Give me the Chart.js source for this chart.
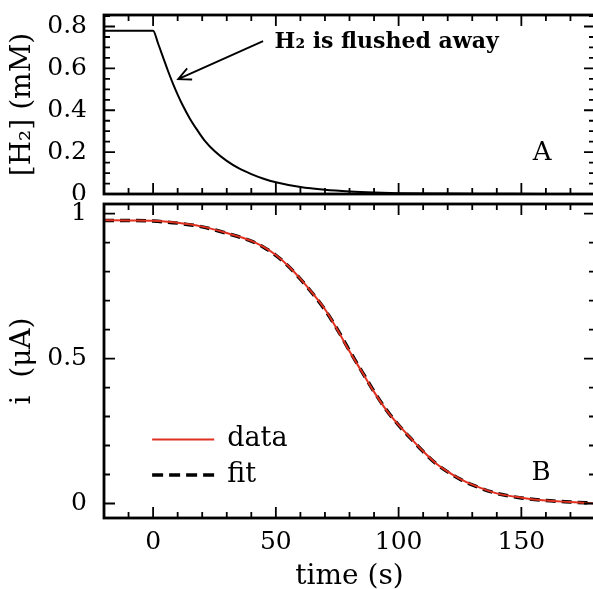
<!DOCTYPE html>
<html>
<head>
<meta charset="utf-8">
<script src="https://cdn.jsdelivr.net/npm/chart.js@4.4.0/dist/chart.umd.min.js"></script>
<style>
  html, body { margin: 0; padding: 0; background: #fff; overflow: hidden; width: 593px; height: 589px; }
  canvas { position: absolute; left: 0; }
  #top { top: 0; }
  #bottom { top: 200px; }
</style>
</head>
<body>
<canvas id="top" width="600" height="200"></canvas>
<canvas id="bottom" width="600" height="389"></canvas>
<script>
// panel A: H2 concentration (mM) vs time (s)
const h2Time = [-20, 0, 2, 4, 6, 8, 10, 12, 15, 18, 21, 25, 30, 35, 40, 45, 50, 60, 70, 80, 90, 100, 120, 140, 160, 180];
const h2Conc = [0.78, 0.78, 0.72, 0.655, 0.59, 0.53, 0.475, 0.425, 0.36, 0.305, 0.255, 0.205, 0.158, 0.122, 0.095, 0.073, 0.056, 0.033, 0.02, 0.012, 0.007, 0.004, 0.002, 0.001, 0, 0];

// panel B: current (uA) vs time (s)
const iTime = [-20, -10, 0, 10, 20, 30, 40, 45, 50, 55, 60, 65, 70, 75, 80, 85, 90, 95, 100, 105, 110, 115, 120, 125, 130, 140, 150, 160, 170, 180];
const iData = [0.977, 0.976, 0.975, 0.968, 0.955, 0.933, 0.906, 0.885, 0.857, 0.82, 0.775, 0.725, 0.67, 0.60, 0.525, 0.455, 0.385, 0.322, 0.271, 0.225, 0.18, 0.14, 0.11, 0.085, 0.065, 0.035, 0.02, 0.01, 0.005, 0.0];
const iFit  = [0.976, 0.976, 0.974, 0.967, 0.954, 0.932, 0.905, 0.884, 0.856, 0.819, 0.774, 0.724, 0.668, 0.601, 0.527, 0.456, 0.386, 0.323, 0.27, 0.224, 0.179, 0.139, 0.109, 0.084, 0.064, 0.035, 0.019, 0.01, 0.005, 0.001];

const xTicks = [0, 50, 100, 150];
const h2Ticks = [0, 0.2, 0.4, 0.6, 0.8];
const iTicks = [0, 0.5, 1];

const pts = (xs, ys) => xs.map((x, k) => ({x: x, y: ys[k]}));

Chart.defaults.font.family = "'DejaVu Serif', serif";
Chart.defaults.color = '#000';

// frame round the plot area with inward ticks on all four sides
const framePlugin = {
  id: 'frame',
  afterDraw(chart, args, opts) {
    const {ctx, chartArea: a, scales: {x, y}} = chart;
    ctx.save();
    ctx.strokeStyle = '#000';
    ctx.lineWidth = 1.8;
    ctx.beginPath();
    const start = (min, step) => Math.ceil(min / step - 1e-6) * step;
    for (let v = start(x.min, opts.xMinor); v <= x.max + 1e-6; v += opts.xMinor) {
      const px = x.getPixelForValue(v);
      const big = Math.abs(v / opts.xMajor - Math.round(v / opts.xMajor)) < 1e-6;
      const len = big ? 11 : 6;
      ctx.moveTo(px, a.bottom); ctx.lineTo(px, a.bottom - len);
      ctx.moveTo(px, a.top); ctx.lineTo(px, a.top + len);
    }
    for (let v = start(y.min, opts.yMinor); v <= y.max + 1e-6; v += opts.yMinor) {
      const py = y.getPixelForValue(v);
      const big = Math.abs(v / opts.yMajor - Math.round(v / opts.yMajor)) < 1e-6;
      const len = big ? 11 : 6;
      ctx.moveTo(a.left, py); ctx.lineTo(a.left + len, py);
      ctx.moveTo(a.right, py); ctx.lineTo(a.right - len, py);
    }
    ctx.stroke();
    ctx.lineWidth = 2.8;
    ctx.strokeRect(a.left, a.top, a.right - a.left, a.bottom - a.top);
    ctx.restore();
  }
};

const fixAxis = (w, h) => scale => {
  if (w !== null) scale.width = w;
  if (h !== null) scale.height = h;
  scale.paddingTop = 0; scale.paddingBottom = 0;
  scale.paddingLeft = 0; scale.paddingRight = 0;
};
const setTicks = vals => scale => { scale.ticks = vals.map(v => ({value: v})); };

// top panel notes
const notesA = {
  id: 'notesA',
  afterDraw(chart) {
    const {ctx, scales: {x, y}} = chart;
    ctx.save();
    ctx.fillStyle = '#000';
    ctx.strokeStyle = '#000';
    ctx.textBaseline = 'middle';
    ctx.font = "bold 22px 'DejaVu Serif'";
    ctx.fillText('H₂ is flushed away', x.getPixelForValue(49.5), y.getPixelForValue(0.725));
    // arrow
    const x1 = x.getPixelForValue(44.8), y1 = y.getPixelForValue(0.73);
    const x2 = x.getPixelForValue(10.2), y2 = y.getPixelForValue(0.549);
    const ang = Math.atan2(y2 - y1, x2 - x1);
    ctx.lineWidth = 1.8;
    ctx.beginPath();
    ctx.moveTo(x1, y1); ctx.lineTo(x2, y2);
    ctx.moveTo(x2 - 14 * Math.cos(ang - 0.45), y2 - 14 * Math.sin(ang - 0.45));
    ctx.lineTo(x2, y2);
    ctx.lineTo(x2 - 14 * Math.cos(ang + 0.45), y2 - 14 * Math.sin(ang + 0.45));
    ctx.stroke();
    ctx.font = "26px 'DejaVu Serif'";
    ctx.textAlign = 'center';
    ctx.fillText('A', x.getPixelForValue(158.5), y.getPixelForValue(0.196));
    ctx.restore();
  }
};

// bottom panel legend and label
const notesB = {
  id: 'notesB',
  afterDraw(chart) {
    const {ctx, scales: {x, y}} = chart;
    const lx0 = x.getPixelForValue(-0.4), lx1 = x.getPixelForValue(24.9);
    const tx = x.getPixelForValue(30.2);
    ctx.save();
    ctx.textBaseline = 'middle';
    ctx.fillStyle = '#000';
    ctx.font = "27px 'DejaVu Serif'";
    let ly = y.getPixelForValue(0.221);
    ctx.strokeStyle = '#e03020';
    ctx.lineWidth = 2;
    ctx.beginPath(); ctx.moveTo(lx0, ly); ctx.lineTo(lx1, ly); ctx.stroke();
    ctx.fillText('data', tx, ly);
    ly = y.getPixelForValue(0.098);
    ctx.strokeStyle = '#000';
    ctx.lineWidth = 3.5;
    ctx.setLineDash([11, 6]);
    ctx.beginPath(); ctx.moveTo(lx0, ly); ctx.lineTo(lx1, ly); ctx.stroke();
    ctx.setLineDash([]);
    ctx.fillText('fit', tx, ly);
    ctx.font = "26px 'DejaVu Serif'";
    ctx.textAlign = 'center';
    ctx.fillText('B', x.getPixelForValue(158), y.getPixelForValue(0.103));
    ctx.restore();
  }
};

new Chart(document.getElementById('top'), {
  type: 'line',
  data: {
    datasets: [{
      data: pts(h2Time, h2Conc),
      borderColor: '#000',
      borderWidth: 2,
      pointRadius: 0,
      cubicInterpolationMode: 'monotone'
    }]
  },
  options: {
    responsive: false,
    animation: false,
    layout: {padding: {top: 15, bottom: 6, right: 5, left: 0}},
    plugins: {
      legend: {display: false},
      tooltip: {enabled: false},
      frame: {xMajor: 50, xMinor: 10, yMajor: 0.2, yMinor: 0.05}
    },
    scales: {
      x: {type: 'linear', min: -20, max: 180, display: false},
      y: {
        min: 0, max: 0.855,
        grid: {display: false},
        border: {display: false},
        ticks: {font: {size: 25}, padding: 9, callback: v => String(v)},
        afterBuildTicks: setTicks(h2Ticks),
        afterFit: fixAxis(104, null),
        title: {display: true, text: '[H₂] (mM)', font: {size: 28, lineHeight: 1}, padding: {top: 9}}
      }
    }
  },
  plugins: [framePlugin, notesA]
});

new Chart(document.getElementById('bottom'), {
  type: 'line',
  data: {
    datasets: [{
      label: 'data',
      data: pts(iTime, iData),
      borderColor: '#e03020',
      borderWidth: 2,
      pointRadius: 0,
      cubicInterpolationMode: 'monotone'
    }, {
      label: 'fit',
      data: pts(iTime, iFit),
      borderColor: '#000',
      borderWidth: 3.5,
      borderDash: [10, 6],
      pointRadius: 0,
      cubicInterpolationMode: 'monotone'
    }]
  },
  options: {
    responsive: false,
    animation: false,
    layout: {padding: {top: 4, bottom: 0, right: 5, left: 0}},
    plugins: {
      legend: {display: false},
      tooltip: {enabled: false},
      frame: {xMajor: 50, xMinor: 10, yMajor: 0.5, yMinor: 0.1}
    },
    scales: {
      x: {
        type: 'linear', min: -20, max: 180,
        grid: {display: false},
        border: {display: false},
        ticks: {font: {size: 25}, padding: 1, maxRotation: 0, callback: v => String(v)},
        afterBuildTicks: setTicks(xTicks),
        afterFit: fixAxis(null, 71),
        title: {display: true, text: 'time (s)', font: {size: 28, lineHeight: 0.85}, padding: {bottom: 0}}
      },
      y: {
        min: -0.05, max: 1.033,
        grid: {display: false},
        border: {display: false},
        ticks: {font: {size: 25}, padding: 9, callback: v => String(v)},
        afterBuildTicks: setTicks(iTicks),
        afterFit: fixAxis(104, null),
        title: {display: true, text: 'i  (μA)', font: {size: 28, lineHeight: 1}, padding: {top: 9}}
      }
    }
  },
  plugins: [framePlugin, notesB]
});
</script>
</body>
</html>
